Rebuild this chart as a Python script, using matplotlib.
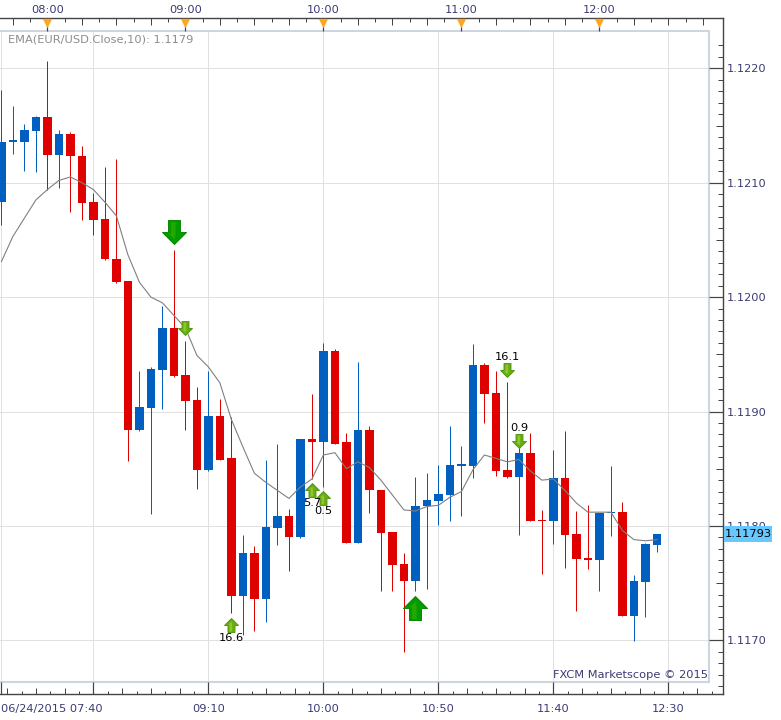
import numpy as np
import matplotlib
matplotlib.use("Agg")
import matplotlib.pyplot as plt
from matplotlib.path import Path
from matplotlib.patches import Rectangle
from matplotlib.transforms import Affine2D


##### Data (prices in 1e-5 units, minutes from 07:40, one candle per 5 min)

opens = [112083,112136,112136,112145,112157,112124,112143,112123,112083,112068,
         112033,112014,111884,111903,111936,111973,111932,111910,111849,111896,
         111859,111739,111776,111736,111798,111809,111790,111876,111873,111953,
         111873,111785,111884,111831,111795,111767,111752,111817,111822,111827,
         111852,111852,111941,111916,111849,111843,111864,111805,111804,111842,
         111793,111772,111770,111811,111812,111721,111751,111783]
highs = [112181,112167,112151,112158,112206,112146,112144,112132,112091,112114,
         112121,112014,111935,111939,111992,112041,111962,111921,111935,111911,
         111895,111792,111782,111858,111872,111815,111876,111915,111960,111955,
         111881,111943,111887,111831,111795,111776,111843,111846,111853,111887,
         111870,111959,111942,111935,111926,111871,111881,111814,111866,111883,
         111813,111818,111811,111852,111821,111757,111785,111793]
lows = [112063,112125,112110,112109,112094,112095,112074,112067,112054,112032,
        112012,111857,111883,111810,111902,111930,111884,111832,111848,111858,
        111724,111705,111708,111716,111783,111761,111789,111841,111834,111872,
        111785,111785,111811,111743,111743,111690,111743,111745,111801,111804,
        111809,111842,111890,111844,111842,111792,111804,111758,111784,111763,
        111726,111762,111743,111791,111721,111699,111720,111777]
closes = [112136,112137,112146,112157,112124,112143,112123,112082,112067,112033,
          112013,111884,111904,111937,111973,111931,111909,111849,111896,111858,
          111739,111776,111736,111799,111809,111790,111876,111873,111953,111872,
          111785,111884,111831,111794,111766,111752,111817,111823,111828,111853,
          111854,111941,111915,111848,111843,111864,111804,111804,111842,111792,
          111771,111770,111811,111812,111721,111752,111784,111793]
ema = [112031,112053,112069,112085,112094,112102,112105,112100,112094,112083,
       112071,112037,112013,112000,111995,111984,111973,111949,111939,111925,
       111893,111869,111846,111838,111831,111824,111834,111841,111862,111864,
       111850,111856,111851,111840,111827,111814,111813,111817,111818,111825,
       111830,111849,111862,111859,111856,111858,111848,111840,111841,111831,
       111820,111812,111812,111812,111796,111788,111787,111788]

arrow_times = [75, 80, 100, 135, 140, 180, 220, 225]
arrow_prices = [1.12057, 1.11973, 1.11713, 1.11831, 1.11824, 1.11728, 1.11936, 1.11874]
arrow_up = [False, False, True, True, True, True, False, False]
arrow_big = [True, False, False, False, False, True, False, False]
arrow_labels = ["", "", "16.6", "5.7", "0.5", "", "16.1", "0.9"]

top_hours = [20, 80, 140, 200, 260]
top_labels = ["08:00", "09:00", "10:00", "11:00", "12:00"]
bottom_majors = [0, 40, 90, 140, 190, 240, 290]
bottom_labels = ["06/24/2015 07:40", "", "09:10", "10:00", "10:50", "11:40", "12:30"]
price_ticks = [1.1170, 1.1180, 1.1190, 1.1200, 1.1210, 1.1220]
last_price = 1.11793


##### Pixel calibration of the picture

W, H = 781, 720
px_per_min = 2.3
px_per_price = 114400.0

def minute_at(px):
    return (px - 1.4) / px_per_min

def price_at(py):
    return 1.122 - (py - 68.3) / px_per_price

def axes_rect(left, top, right, bottom):
    return [left / W, 1 - bottom / H, (right - left) / W, (bottom - top) / H]


plt.rcParams['font.family'] = ['DejaVu Sans']
fs = 8.2
lw1 = 0.72
axis_col = '#444444'
text_col = '#3b3b75'
blue, red = '#005fbf', '#df0000'

fig = plt.figure(figsize=(W / 100, H / 100), dpi=100, facecolor='white')

##### Main plot area

ax = fig.add_axes(axes_rect(0, 31, 708.5, 682))
ax.set_xticks(bottom_majors)
ax.set_yticks(price_ticks)
ax.set_xlim(minute_at(0), minute_at(708.5))
ax.set_ylim(price_at(682), price_at(31))
for s in ['top', 'right', 'bottom']:
    ax.spines[s].set_color('#cdd5e0')
    ax.spines[s].set_linewidth(1.5)
ax.spines['left'].set_visible(False)
ax.tick_params(length=0, labelbottom=False, labelleft=False)
ax.grid(True, color='#e0e0e0', linewidth=lw1)
ax.set_axisbelow(True)

times = np.arange(len(opens)) * 5
o = np.array(opens) / 1e5
h = np.array(highs) / 1e5
l = np.array(lows) / 1e5
c = np.array(closes) / 1e5
colors = [blue if c[i] >= o[i] else red for i in range(len(o))]

ax.vlines(times, l, h, colors=colors, linewidth=lw1, zorder=3)
body_low = np.minimum(o, c)
body_h = np.maximum(np.abs(c - o), 1.2e-5)
ax.bar(times, body_h, bottom=body_low, width=8.6 / px_per_min, color=colors, linewidth=0, zorder=3)
ax.plot(times, np.array(ema) / 1e5, color='#808080', linewidth=0.8, zorder=4)

# arrows, as a path pointing up
arrow_path = Path([(-1, 0), (0, 1), (1, 0), (0.5, 0), (0.5, -1), (-0.5, -1), (-0.5, 0), (-1, 0)], closed=True)
stripe_path = Path([(-0.5, 0.1), (0, 0.6), (0.1, 0.1), (0.1, -0.9), (-0.3, -0.9), (-0.3, 0.1), (-0.5, 0.1)], closed=True)
flip = Affine2D().scale(1, -1)

for t, p, up, big, lab in zip(arrow_times, arrow_prices, arrow_up, arrow_big, arrow_labels):
    size = 17.3 ** 2 if big else 10.0 ** 2
    base, edge, light = ('#009c00', '#0a8a00', '#22a800') if big else ('#6cab16', '#4f9a12', '#8cc82a')
    m = arrow_path if up else arrow_path.transformed(flip)
    m2 = stripe_path if up else stripe_path.transformed(flip)
    ax.scatter([t], [p], marker=m, s=size, c=base, edgecolors=edge, linewidths=0.7, zorder=6)
    ax.scatter([t], [p], marker=m2, s=size * 0.75, c=light, linewidths=0, zorder=7)
    if lab:
        off = -9.4 if up else 9.4
        ax.annotate(lab, (t, p), xytext=(0, off), textcoords='offset points', ha='center', va='center',
                    fontsize=fs, color='black', zorder=8)

ax.text(8 / 708.5, 1 - 8 / 651, "EMA(EUR/USD.Close,10): 1.1179", transform=ax.transAxes, ha='left', va='center',
        fontsize=fs, color='#8c8c8c', zorder=8)
ax.text(1 - 0.5 / 708.5, 7 / 651, "FXCM Marketscope \u00a9 2015", transform=ax.transAxes, ha='right', va='center',
        fontsize=fs, color=text_col, zorder=8)

##### Outer axis box with the tick rulers

outer = fig.add_axes(axes_rect(0, 18, 723, 694))
outer.patch.set_visible(False)
for s in ['top', 'right', 'bottom']:
    outer.spines[s].set_color(axis_col)
    outer.spines[s].set_linewidth(1.0)
outer.spines['left'].set_visible(False)

# bottom ruler
outer.set_xticks(bottom_majors)
outer.set_xticklabels(bottom_labels)
outer.get_xticklabels()[0].set_ha('left')
outer.set_xticks(40 + np.arange(-6, 44) * 6.25, minor=True)
outer.tick_params(axis='x', which='major', direction='in', length=12 * 0.72, width=lw1 * 1.2, color=axis_col,
                  labelsize=fs, labelcolor=text_col, pad=7.3)
outer.tick_params(axis='x', which='minor', direction='in', length=3.5 * 0.72, width=lw1, color=axis_col)
mid = 40 + np.arange(-3, 23) * 12.5
outer.vlines(mid[mid < minute_at(723)], price_at(694), price_at(688), colors=axis_col, linewidth=lw1)

# right ruler
outer.yaxis.tick_right()
outer.set_yticks(price_ticks)
outer.set_yticklabels(["%.4f" % p for p in price_ticks])
outer.set_yticks(1.1166 + np.arange(0, 57) * 0.0001, minor=True)
outer.tick_params(axis='y', which='major', direction='in', length=14.5 * 0.72, width=lw1 * 1.2, color=axis_col,
                  labelsize=fs, labelcolor=text_col, pad=2.9)
outer.tick_params(axis='y', which='minor', direction='in', length=5 * 0.72, width=lw1, color=axis_col)
outer.hlines(1.1165 + np.arange(0, 12) * 0.0005, minute_at(716), minute_at(723), colors=axis_col, linewidth=lw1)

# top ruler
top_ax = outer.secondary_xaxis('top')
top_ax.set_xticks(top_hours)
top_ax.set_xticklabels(top_labels)
top_ax.set_xticks(20 + np.arange(-2, 39) * 7.5, minor=True)
top_ax.spines['top'].set_visible(False)
top_ax.tick_params(axis='x', which='major', direction='in', length=13 * 0.72, width=lw1 * 1.2, color=axis_col,
                   labelsize=fs, labelcolor=text_col, pad=2.2)
top_ax.tick_params(axis='x', which='minor', direction='in', length=3.5 * 0.72, width=lw1, color=axis_col)
top_mid = 20 + np.arange(-1, 20) * 15
outer.vlines(top_mid[top_mid < minute_at(723)], price_at(25), price_at(18), colors=axis_col, linewidth=lw1)
outer.scatter(top_hours, [price_at(23.5)] * len(top_hours), marker='v', s=45, c='#ffa520', linewidths=0, zorder=5,
              clip_on=False)

# last price box
outer.add_patch(Rectangle((minute_at(724), price_at(542)), 48 / px_per_min, 16 / px_per_price,
                          facecolor='#66c8ff', edgecolor='none', zorder=9, clip_on=False))
outer.text(minute_at(725), last_price, "%.5f" % last_price, ha='left', va='center', fontsize=fs, color='black',
           zorder=10, clip_on=False)

# set_xticks can widen the view, so the limits go last
outer.set_xlim(minute_at(0), minute_at(723))
outer.set_ylim(price_at(694), price_at(18))

fig.savefig('out.png', dpi=100)
